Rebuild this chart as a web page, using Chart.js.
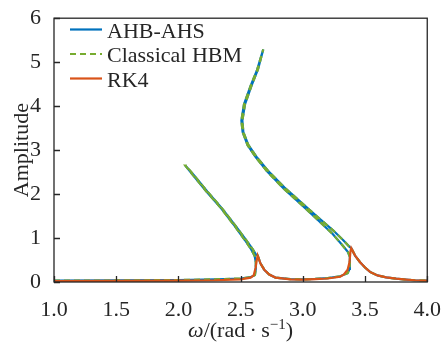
<!DOCTYPE html>
<html>
<head>
<meta charset="utf-8">
<script src="https://cdn.jsdelivr.net/npm/chart.js@4.4.1/dist/chart.umd.min.js"></script>
<style>
  html, body { margin: 0; padding: 0; background: #fff; }
  #wrap { width: 448px; height: 351px; position: relative; }
</style>
</head>
<body>
<div id="wrap"><canvas id="frf"></canvas></div>
<script>
// amplitude-frequency response of the forced oscillator
const seriesLabels = ['AHB-AHS', 'Classical HBM', 'RK4'];
const seriesColors = ['#0072BD', '#77AC30', '#D95319'];

// harmonic balance branch, in continuation order (both HB solvers give it)
const hbOmega = [
  1.0, 1.5, 2.0, 2.3, 2.5, 2.58, 2.615,
  2.622, 2.622, 2.612, 2.585, 2.535, 2.45, 2.345, 2.225, 2.12, 2.055,
  2.06, 2.13, 2.232, 2.352, 2.458, 2.545, 2.598, 2.625, 2.637,
  2.66, 2.69, 2.73, 2.78, 2.9, 3.0, 3.1, 3.2, 3.3, 3.36,
  3.376, 3.378,
  3.363, 3.32, 3.24, 3.11, 2.98, 2.847, 2.714, 2.621, 2.556, 2.516, 2.506, 2.527, 2.58, 2.633, 2.682,
  2.64, 2.587, 2.535, 2.514, 2.522, 2.562, 2.627, 2.72, 2.853, 2.986, 3.115, 3.245, 3.325, 3.375, 3.39,
  3.42, 3.46, 3.5, 3.54, 3.6, 3.67, 3.75, 3.83, 3.9, 4.0
];
const hbAmp = [
  0.03, 0.035, 0.045, 0.06, 0.08, 0.11, 0.16,
  0.3, 0.45, 0.6, 0.74, 0.95, 1.28, 1.67, 2.06, 2.42, 2.65,
  2.65, 2.41, 2.06, 1.67, 1.28, 0.95, 0.74, 0.62, 0.6,
  0.42, 0.28, 0.17, 0.1, 0.065, 0.06, 0.07, 0.09, 0.13, 0.2,
  0.3, 0.57,
  0.68, 0.83, 1.09, 1.44, 1.78, 2.12, 2.51, 2.84, 3.11, 3.41, 3.67, 4.04, 4.46, 4.83, 5.29,
  4.84, 4.46, 4.04, 3.67, 3.41, 3.12, 2.85, 2.53, 2.15, 1.81, 1.49, 1.17, 0.95, 0.8, 0.77,
  0.6, 0.45, 0.33, 0.23, 0.15, 0.105, 0.075, 0.055, 0.04, 0.03
];

// RK4 frequency sweep
const rkOmega = [
  1.0, 1.5, 2.0, 2.3, 2.5, 2.58, 2.605, 2.62, 2.63, 2.637,
  2.66, 2.69, 2.73, 2.78, 2.9, 3.0, 3.1, 3.2, 3.3, 3.33, 3.36, 3.375, 3.383, 3.389,
  3.42, 3.46, 3.5, 3.54, 3.6, 3.67, 3.75, 3.83, 3.9, 4.0
];
const rkAmp = [
  0.02, 0.025, 0.03, 0.04, 0.06, 0.1, 0.15, 0.32, 0.5, 0.6,
  0.42, 0.28, 0.17, 0.1, 0.06, 0.055, 0.065, 0.08, 0.12, 0.17, 0.28, 0.45, 0.7, 0.77,
  0.6, 0.45, 0.33, 0.23, 0.15, 0.105, 0.075, 0.055, 0.04, 0.03
];

const xTicks = [1.0, 1.5, 2.0, 2.5, 3.0, 3.5, 4.0];
const yTicks = [0, 1, 2, 3, 4, 5, 6];

const FONT = '"Liberation Serif", "Times New Roman", serif';
const FONT_SIZE = 22;
const INK = '#262626';

function toPoints(xs, ys) {
  return xs.map((v, i) => ({ x: v, y: ys[i] }));
}

// box, inward ticks, axis titles and the legend
const frame = {
  id: 'frame',
  afterDatasetsDraw(chart) {
    const { ctx, chartArea: a, scales: { x, y } } = chart;
    ctx.save();
    ctx.strokeStyle = INK;
    ctx.lineWidth = 1.3;
    ctx.strokeRect(a.left, a.top, a.right - a.left, a.bottom - a.top);
    ctx.beginPath();
    xTicks.forEach(v => {
      const px = Math.round(x.getPixelForValue(v)) + 0.5;
      ctx.moveTo(px, a.bottom);
      ctx.lineTo(px, a.bottom - 6);
    });
    yTicks.forEach(v => {
      const py = Math.round(y.getPixelForValue(v)) + 0.5;
      ctx.moveTo(a.left, py);
      ctx.lineTo(a.left + 6, py);
    });
    ctx.stroke();

    // y title
    ctx.fillStyle = INK;
    ctx.font = FONT_SIZE + 'px ' + FONT;
    ctx.textAlign = 'center';
    ctx.textBaseline = 'middle';
    ctx.save();
    ctx.translate(22, (a.top + a.bottom) / 2);
    ctx.rotate(-Math.PI / 2);
    ctx.fillText('Amplitude', 0, 0);
    ctx.restore();

    // x title: ω/(rad·s⁻¹) with italic omega and raised exponent
    const parts = [
      { t: 'ω', f: 'italic ' + FONT_SIZE + 'px ' + FONT, dy: 0 },
      { t: '/(rad\u2009·\u2009s', f: FONT_SIZE + 'px ' + FONT, dy: 0 },
      { t: '−1', f: '15px ' + FONT, dy: -8 },
      { t: ')', f: FONT_SIZE + 'px ' + FONT, dy: 0 }
    ];
    let total = 0;
    parts.forEach(p => { ctx.font = p.f; p.w = ctx.measureText(p.t).width; total += p.w; });
    let cx = (a.left + a.right) / 2 - total / 2;
    ctx.textAlign = 'left';
    ctx.textBaseline = 'alphabetic';
    parts.forEach(p => {
      ctx.font = p.f;
      ctx.fillText(p.t, cx, 337 + p.dy);
      cx += p.w;
    });

    // legend
    ctx.font = FONT_SIZE + 'px ' + FONT;
    chart.data.datasets.forEach((ds, i) => {
      const ly = 29.5 + i * 24.5;
      ctx.save();
      ctx.strokeStyle = ds.borderColor;
      ctx.lineWidth = 2.2;
      ctx.setLineDash(ds.borderDash || []);
      ctx.beginPath();
      ctx.moveTo(70, ly);
      ctx.lineTo(102, ly);
      ctx.stroke();
      ctx.restore();
      ctx.fillStyle = INK;
      ctx.fillText(ds.label, 107, ly + 8);
    });
    ctx.restore();
  }
};

const tickFont = { family: FONT, size: FONT_SIZE };

new Chart(document.getElementById('frf'), {
  type: 'scatter',
  data: {
    datasets: [
      {
        label: seriesLabels[0],
        data: toPoints(hbOmega, hbAmp),
        borderColor: seriesColors[0],
        showLine: true,
        pointRadius: 0,
        borderWidth: 2.2,
        order: 3
      },
      {
        label: seriesLabels[1],
        data: toPoints(hbOmega, hbAmp),
        borderColor: seriesColors[1],
        borderDash: [6, 4],
        showLine: true,
        pointRadius: 0,
        borderWidth: 2.2,
        order: 2
      },
      {
        label: seriesLabels[2],
        data: toPoints(rkOmega, rkAmp),
        borderColor: seriesColors[2],
        showLine: true,
        pointRadius: 0,
        borderWidth: 2.2,
        order: 1
      }
    ]
  },
  options: {
    animation: false,
    responsive: true,
    maintainAspectRatio: false,
    layout: { padding: { top: 14, right: 16, left: 0, bottom: 0 } },
    plugins: {
      legend: { display: false },
      tooltip: { enabled: false }
    },
    scales: {
      x: {
        type: 'linear',
        min: 1,
        max: 4,
        afterBuildTicks: s => { s.ticks = xTicks.map(v => ({ value: v })); },
        afterFit: s => { s.height = 69; },
        grid: { display: false },
        border: { display: false },
        ticks: {
          padding: 7,
          color: INK,
          font: tickFont,
          maxRotation: 0,
          callback: v => v.toFixed(1)
        }
      },
      y: {
        type: 'linear',
        min: 0,
        max: 6,
        afterBuildTicks: s => { s.ticks = yTicks.map(v => ({ value: v })); },
        afterFit: s => { s.width = 54; },
        grid: { display: false },
        border: { display: false },
        ticks: {
          padding: 5,
          color: INK,
          font: tickFont,
          callback: v => String(v)
        }
      }
    }
  },
  plugins: [frame]
});
</script>
</body>
</html>
